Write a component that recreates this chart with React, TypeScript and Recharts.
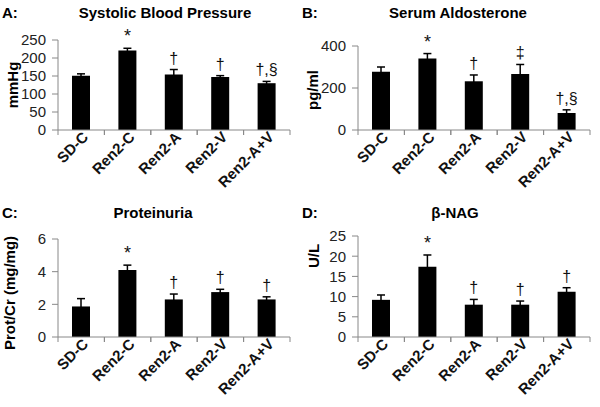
import { Bar, BarChart, ErrorBar, LabelList, XAxis, YAxis } from 'recharts';

const groups = ['SD-C', 'Ren2-C', 'Ren2-A', 'Ren2-V', 'Ren2-A+V'];

const sbpMean = [151, 221, 154, 147, 130];
const sbpErr = [5, 6, 14, 4, 5];
const sbpMarks = ['', '*', '†', '†', '†,§'];
const sbpTicks = [0, 50, 100, 150, 200, 250];

const aldoMean = [277, 340, 232, 267, 81];
const aldoErr = [23, 24, 30, 45, 15];
const aldoMarks = ['', '*', '†', '‡', '†,§'];
const aldoTicks = [0, 200, 400];

const protMean = [1.87, 4.1, 2.3, 2.75, 2.3];
const protErr = [0.48, 0.3, 0.33, 0.17, 0.16];
const protMarks = ['', '*', '†', '†', '†'];
const protTicks = [0, 2, 4, 6];

const nagMean = [9.2, 17.4, 8.0, 8.0, 11.2];
const nagErr = [1.2, 2.9, 1.3, 0.9, 1.0];
const nagMarks = ['', '*', '†', '†', '†'];
const nagTicks = [0, 5, 10, 15, 20, 25];

const FONT = 'Arial, "Liberation Sans", sans-serif';
const AXIS = '#888888';

interface PanelProps {
  letter: string;
  title: string;
  titleX: number;
  yLabel: string;
  yLabelX: number;
  yLabelY: number;
  means: number[];
  errs: number[];
  marks: string[];
  ticks: number[];
  left: number;
  top: number;
  height: number;
  plotTop: number;
}

function Panel(p: PanelProps) {
  const rows = groups.map((g, i) => ({ group: g, value: p.means[i], err: p.errs[i] }));
  const band = (300 - 58 - 10) / groups.length;

  // category labels at 45°, tick marks sit between categories
  const groupTick = ({ x, y, payload }: any) => (
    <g>
      <line x1={x - band / 2} x2={x - band / 2} y1={y} y2={y + 5} stroke={AXIS} />
      <line x1={x + band / 2} x2={x + band / 2} y1={y} y2={y + 5} stroke={AXIS} />
      <text
        x={x + 8}
        y={y + 8}
        textAnchor="end"
        transform={`rotate(-45, ${x + 8}, ${y + 8})`}
        fontFamily={FONT}
        fontWeight="bold"
        fontSize={15}
        fill="#111"
      >
        {payload.value}
      </text>
    </g>
  );

  // significance marks sit just above each error bar
  const mark = ({ x, y, width, height, index, value }: any) => {
    const text = p.marks[index];
    if (!text) return null;
    const errPx = (p.errs[index] * height) / value;
    return (
      <text
        x={x + width / 2}
        y={y - errPx - 6}
        textAnchor="middle"
        fontFamily={FONT}
        fontSize={text === '*' ? 18 : 16}
        fill="#111"
      >
        {text}
      </text>
    );
  };

  return (
    <div style={{ position: 'absolute', left: p.left, top: p.top, width: 300, height: p.height }}>
      <div style={{ position: 'absolute', left: 2, top: 4, fontFamily: FONT, fontWeight: 'bold', fontSize: 15, lineHeight: '18px' }}>
        {p.letter}
      </div>
      <div
        style={{
          position: 'absolute',
          left: p.titleX,
          top: 4,
          transform: 'translateX(-50%)',
          whiteSpace: 'nowrap',
          fontFamily: FONT,
          fontWeight: 'bold',
          fontSize: 15,
          lineHeight: '18px',
        }}
      >
        {p.title}
      </div>
      <div
        style={{
          position: 'absolute',
          left: p.yLabelX,
          top: p.yLabelY,
          transform: 'translate(-50%, -50%) rotate(-90deg)',
          whiteSpace: 'nowrap',
          fontFamily: FONT,
          fontWeight: 'bold',
          fontSize: 15,
          lineHeight: '18px',
        }}
      >
        {p.yLabel}
      </div>
      <BarChart
        width={300}
        height={p.height}
        data={rows}
        margin={{ top: p.plotTop, right: 10, left: 0, bottom: 0 }}
        style={{ position: 'absolute', left: 0, top: 0 }}
      >
        <XAxis
          dataKey="group"
          height={70}
          interval={0}
          axisLine={{ stroke: AXIS }}
          tickLine={false}
          tickSize={0}
          tickMargin={0}
          tick={groupTick}
        />
        <YAxis
          width={58}
          domain={[p.ticks[0], p.ticks[p.ticks.length - 1]]}
          ticks={p.ticks}
          interval={0}
          axisLine={{ stroke: AXIS }}
          tickLine={{ stroke: AXIS }}
          tickSize={6}
          tickMargin={6}
          tick={{ fontFamily: FONT, fontSize: 15, fill: '#222' }}
        />
        <Bar dataKey="value" fill="#000" barSize={18} isAnimationActive={false}>
          <ErrorBar dataKey="err" width={4} stroke="#000" strokeWidth={1.5} />
          <LabelList dataKey="value" content={mark} />
        </Bar>
      </BarChart>
    </div>
  );
}

export default function App() {
  return (
    <div style={{ position: 'absolute', left: 0, top: 0, width: 600, height: 407, background: '#fff' }}>
      <Panel
        letter="A:"
        title="Systolic Blood Pressure"
        titleX={165}
        yLabel="mmHg"
        yLabelX={13}
        yLabelY={85}
        means={sbpMean}
        errs={sbpErr}
        marks={sbpMarks}
        ticks={sbpTicks}
        left={0}
        top={0}
        height={200}
        plotTop={40}
      />
      <Panel
        letter="B:"
        title="Serum Aldosterone"
        titleX={158}
        yLabel="pg/ml"
        yLabelX={13}
        yLabelY={90}
        means={aldoMean}
        errs={aldoErr}
        marks={aldoMarks}
        ticks={aldoTicks}
        left={300}
        top={0}
        height={200}
        plotTop={46}
      />
      <Panel
        letter="C:"
        title="Proteinuria"
        titleX={153}
        yLabel="Prot/Cr (mg/mg)"
        yLabelX={10}
        yLabelY={93}
        means={protMean}
        errs={protErr}
        marks={protMarks}
        ticks={protTicks}
        left={0}
        top={200}
        height={207}
        plotTop={39}
      />
      <Panel
        letter="D:"
        title="β-NAG"
        titleX={155}
        yLabel="U/L"
        yLabelX={14}
        yLabelY={56}
        means={nagMean}
        errs={nagErr}
        marks={nagMarks}
        ticks={nagTicks}
        left={300}
        top={200}
        height={207}
        plotTop={36}
      />
    </div>
  );
}
